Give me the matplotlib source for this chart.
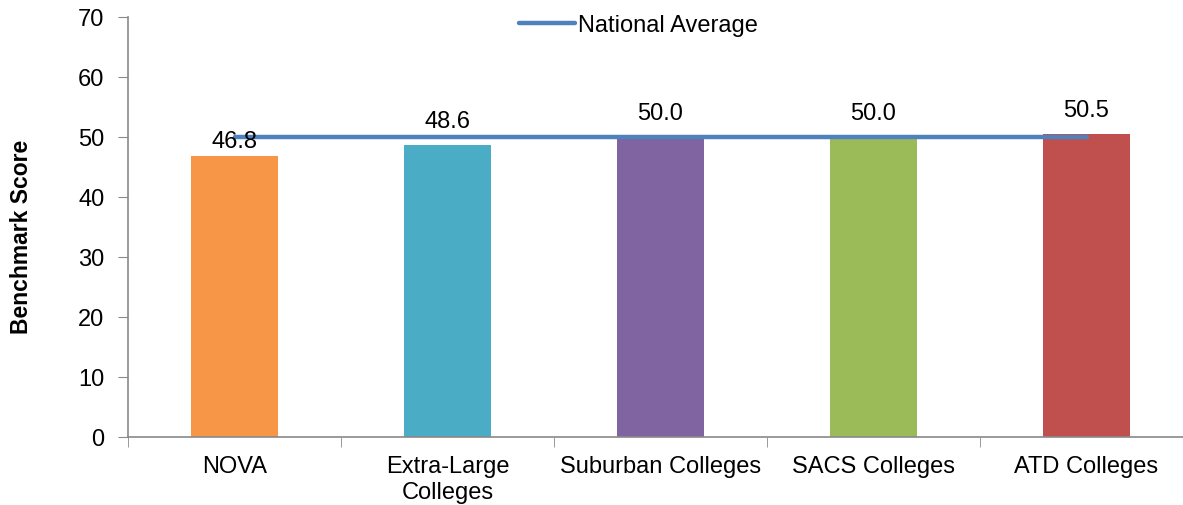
import numpy as np
import matplotlib.pyplot as plt

# Benchmark scores by comparison group
categories = ["NOVA", "Extra-Large\nColleges", "Suburban Colleges", "SACS Colleges", "ATD Colleges"]
scores = [46.8, 48.6, 50.0, 50.0, 50.5]
national_avg = [50.0, 50.0, 50.0, 50.0, 50.0]
bar_colors = ["#F79646", "#4BACC6", "#8064A2", "#9BBB59", "#C0504D"]
# label nudge (data units) - the first label sits lower in the original
label_nudge = [-1.4, 0, 0, 0, 0]

plt.rcParams['font.family'] = ['Liberation Sans', 'DejaVu Sans']
FS = 17

fig = plt.figure(figsize=(11.83, 5.06), dpi=100)
W, H = 1183, 506
ax = fig.add_axes([128 / W, 68 / H, 1065 / W, 420 / H])

x = np.arange(len(categories))
ax.bar(x, scores, width=0.41, color=bar_colors, zorder=2)
line, = ax.plot(x, national_avg, color="#4F81BD", lw=3.2, solid_capstyle="round",
                zorder=3, label="National Average")

for xi, v, dn in zip(x, scores, label_nudge):
    ax.text(xi, v + 4.0 + dn, f"{v:.1f}", ha="center", va="center", fontsize=FS, zorder=4)

ax.set_xlim(-0.5, len(categories) - 0.5)
ax.set_ylim(0, 70)
ax.set_yticks(range(0, 71, 10))
ax.tick_params(axis="y", labelsize=FS, length=7, color="#898989", pad=10)
ax.set_xticks(x)
ax.set_xticklabels(categories, fontsize=FS, linespacing=1.25)
ax.tick_params(axis="x", which="major", length=0, pad=13)
ax.set_xticks(np.arange(-0.5, len(categories), 1.0), minor=True)
ax.tick_params(axis="x", which="minor", length=7, color="#898989")

for s in ["top", "right"]:
    ax.spines[s].set_visible(False)
for s in ["left", "bottom"]:
    ax.spines[s].set_color("#898989")
    ax.spines[s].set_linewidth(1.2)

fig.text(22 / W, 1 - 237 / H, "Benchmark Score", rotation=90, ha="center", va="center",
         fontsize=16.5, fontweight="bold")

fig.legend(handles=[line], loc="center", bbox_to_anchor=(638 / W, 1 - 26 / H),
           frameon=False, fontsize=FS, handlelength=2.4, handletextpad=0.1)

fig.savefig("out.png", dpi=100)
